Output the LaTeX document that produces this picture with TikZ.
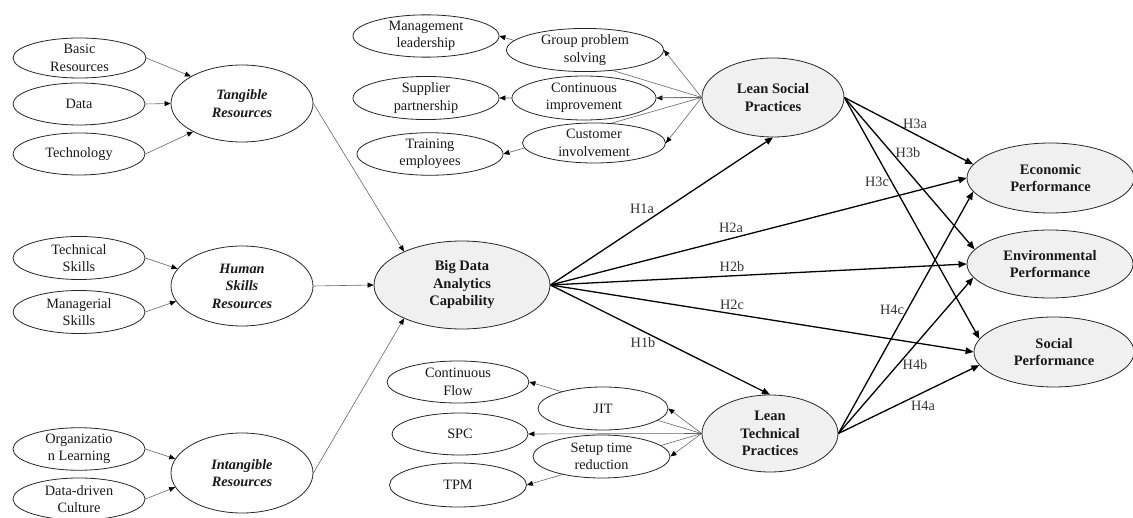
\documentclass[tikz,border=0pt]{standalone}
\usepackage{fontspec}
\setmainfont{Liberation Serif}
\usetikzlibrary{shapes.geometric,arrows.meta}
\pgfdeclarelayer{bg}
\pgfsetlayers{bg,main}
\begin{document}
\begin{tikzpicture}[x=1pt,y=-1pt,
  every node/.style={font=\fontsize{14.3}{17.5}\selectfont},
  sz/.style 2 args={minimum width=#1,minimum height=#2},
  ell/.style={ellipse,draw=black!85,line width=0.8pt,fill=white,inner sep=0pt,align=center,text=black!90},
  sub/.style={ell},
  res/.style={ell,font=\fontsize{14.3}{17.5}\selectfont\bfseries\itshape},
  core/.style={ell,fill=black!6,font=\fontsize{14.5}{17.5}\selectfont\bfseries},
  lab/.style={inner sep=0pt,text=black!80},
  tarr/.style={draw=black!60,line width=0.6pt,-{Triangle[length=6pt,width=5pt,color=black]}},
  karr/.style={draw=black,line width=1.3pt,-{Triangle[length=8pt,width=6.5pt]}}
]
\useasboundingbox (0,0) rectangle (1133,518);

% left side
\node[sub,sz={133pt}{40pt}] (basic) at (79.5,58) {Basic\\Resources};
\node[sub,sz={132pt}{42pt}] (data) at (79,104) {Data};
\node[sub,sz={132pt}{42pt}] (tech) at (79,154) {Technology};
\node[res,sz={142pt}{77pt}] (tang) at (242,103.5) {Tangible\\Resources};
\node[sub,sz={132pt}{43pt}] (tskill) at (79,258) {Technical\\Skills};
\node[sub,sz={132pt}{43pt}] (mskill) at (79,312) {Managerial\\Skills};
\node[res,sz={142pt}{80pt}] (human) at (242,286) {Human\\Skills\\Resources};
\node[sub,sz={132pt}{42pt}] (org) at (79,449) {Organizatio\\n Learning};
\node[sub,sz={132pt}{42pt}] (ddc) at (79,499) {Data-driven\\Culture};
\node[res,sz={142pt}{80pt}] (intang) at (242,473) {Intangible\\Resources};
\node[core,sz={176pt}{88pt}] (bdac) at (462,285) {Big Data\\Analytics\\Capability};

% lean social
\node[sub,sz={146pt}{42pt}] (ml) at (426,36) {Management\\leadership};
\node[sub,sz={157pt}{43pt}] (gps) at (585,50) {Group problem\\solving};
\node[sub,sz={146pt}{40pt}] (sp) at (426,98) {Supplier\\partnership};
\node[sub,sz={144pt}{44pt}] (ci) at (584,98) {Continuous\\improvement};
\node[sub,sz={146pt}{42pt}] (te) at (430,154) {Training\\employees};
\node[sub,sz={143pt}{40pt}] (cust) at (594,143) {Customer\\involvement};
\node[core,sz={142pt}{79pt}] (lsp) at (773,97.5) {Lean Social\\Practices};

% lean technical
\node[sub,sz={142pt}{42pt}] (cf) at (458,382) {Continuous\\Flow};
\node[sub,sz={136pt}{42pt}] (spc) at (460,434) {SPC};
\node[sub,sz={137pt}{44pt}] (tpm) at (458,485) {TPM};
\node[sub,sz={130pt}{43pt}] (jit) at (603,408.5) {JIT};
\node[sub,sz={137pt}{43pt}] (setup) at (601.5,456.5) {Setup time\\reduction};
\node[core,sz={136pt}{77pt}] (ltp) at (770,433.5) {Lean\\Technical\\Practices};

% outcomes
\node[core,sz={167pt}{70pt}] (econ) at (1050.5,178) {Economic\\Performance};
\node[core,sz={166pt}{68pt}] (env) at (1050,264) {Environmental\\Performance};
\node[core,sz={160pt}{70pt}] (soc) at (1054,352) {Social\\Performance};

% labels
\node[lab] (h1a) at (642,209) {H1a};
\node[lab] (h2a) at (731,228) {H2a};
\node[lab] (h2b) at (732,267) {H2b};
\node[lab] (h2c) at (732,305) {H2c};
\node[lab] (h1b) at (643,343) {H1b};
\node[lab] (h3a) at (915,124) {H3a};
\node[lab] (h3b) at (908,153) {H3b};
\node[lab] (h3c) at (877,182) {H3c};
\node[lab] (h4c) at (892,310) {H4c};
\node[lab] (h4b) at (915,365) {H4b};
\node[lab] (h4a) at (923,406) {H4a};

\begin{pgfonlayer}{bg}
% left thin arrows
\draw[tarr] (basic.east) -- (tang.152);
\draw[tarr] (data.east) -- (tang.west);
\draw[tarr] (tech.east) -- (tang.210);
\draw[tarr] (tskill.east) -- (human.165);
\draw[tarr] (mskill.east) -- (human.193);
\draw[tarr] (org.east) -- (intang.168);
\draw[tarr] (ddc.east) -- (intang.192);
\draw[tarr] (tang.east) -- (bdac.150);
\draw[tarr] (human.east) -- (bdac.west);
\draw[tarr] (intang.east) -- (bdac.210);
% lean social fan
\draw[tarr] (lsp.west) -- (gps.east);
\draw[tarr] (lsp.west) -- (ci.east);
\draw[tarr] (lsp.west) -- (cust.east);
\draw[tarr] (lsp.west) -- (ml.east);
\draw[tarr] (lsp.west) -- (sp.east);
\draw[tarr] (lsp.west) -- (te.east);
% lean technical fan
\draw[tarr] (ltp.west) -- (jit.east);
\draw[tarr] (ltp.west) -- (setup.east);
\draw[tarr] (ltp.west) -- (cf.east);
\draw[tarr] (ltp.west) -- (spc.east);
\draw[tarr] (ltp.west) -- (tpm.east);
% hypotheses
\draw[karr] (bdac.east) -- (lsp.south);
\draw[karr] (bdac.east) -- (ltp.north);
\draw[karr] (bdac.east) -- (econ.west);
\draw[karr] (bdac.east) -- (env.west);
\draw[karr] (bdac.east) -- (soc.west);
\draw[karr] (lsp.east) -- (econ.170);
\draw[karr] (lsp.east) -- (env.169);
\draw[karr] (lsp.east) -- (soc.170);
\draw[karr] (ltp.east) -- (econ.190);
\draw[karr] (ltp.east) -- (env.190);
\draw[karr] (ltp.east) -- (soc.190);
\end{pgfonlayer}
\end{tikzpicture}
\end{document}
